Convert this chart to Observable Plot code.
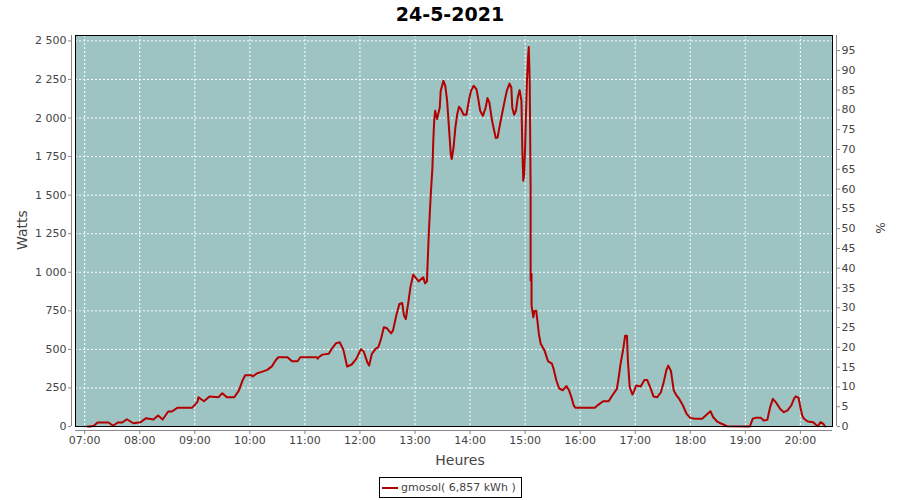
<!DOCTYPE html>
<html>
<head>
<meta charset="utf-8">
<script src="https://cdn.jsdelivr.net/npm/d3@7"></script>
<script src="https://cdn.jsdelivr.net/npm/@observablehq/plot@0.6"></script>
<style>
  body { margin: 0; background: white; }
  #wrap { position: relative; width: 900px; height: 500px; font-family: "DejaVu Sans", sans-serif; color: #444; }
  #title { position: absolute; left: 0; top: 0; width: 900px; height: 28px; line-height: 28px; text-align: center; font-weight: bold; font-size: 19px; color: #000; }
  #chart { position: absolute; left: 0; top: 28px; }
  .lab { position: absolute; font-size: 14px; color: #444; white-space: nowrap; }
  #legend { position: absolute; left: 379px; top: 477px; width: 141px; height: 19px; border: 1px solid #000; font-size: 11px; color: #444; line-height: 19px; white-space: nowrap; overflow: visible; }
  #legend .sw { position: absolute; left: 2px; top: 9px; width: 16px; height: 2px; background: #b00000; }
  #legend .tx { position: absolute; left: 21px; top: 0; }
</style>
</head>
<body>
<div id="wrap">
  <div id="title">24-5-2021</div>
  <div id="chart"></div>
  <div class="lab" id="ylab" style="left:22px; top:230px; transform: translate(-50%,-50%) rotate(-90deg);">Watts</div>
  <div class="lab" id="y2lab" style="left:880px; top:228px; transform: translate(-50%,-50%) rotate(90deg); font-size:12px;">%</div>
  <div class="lab" id="xlab" style="left:460px; top:460px; transform: translate(-50%,-50%);">Heures</div>
  <div id="legend"><div class="sw"></div><div class="tx">gmosol( 6,857 kWh )</div></div>
</div>
<script>
const times = ["07:03","07:06","07:10","07:14","07:26","07:31","07:36","07:41","07:46","07:53",
"08:01","08:07","08:15","08:20","08:25","08:31","08:35","08:41","08:57",
"09:03","09:04","09:10","09:16","09:26","09:30","09:35","09:43","09:48","09:52","09:55",
"10:02","10:03","10:08","10:13","10:19","10:24","10:28","10:31","10:41","10:46","10:52","10:55",
"11:13","11:14","11:15","11:19","11:26","11:30","11:34","11:38","11:42","11:46","11:51","11:56",
"12:01","12:04","12:08","12:10","12:13","12:17","12:20","12:23","12:26","12:29","12:34","12:36","12:40","12:43","12:46","12:48","12:50","12:53","12:55","12:58",
"13:04","13:09","13:11","13:13","13:15","13:17","13:19","13:20","13:21","13:22","13:24","13:27","13:28","13:31","13:33","13:35","13:37","13:39","13:40","13:42","13:44","13:46","13:48","13:50","13:53","13:56","13:59",
"14:01","14:04","14:07","14:09","14:11","14:14","14:17","14:19","14:21","14:24","14:28","14:30","14:33","14:37","14:40","14:43","14:45","14:46","14:48","14:50","14:52","14:54","14:56","14:57","14:58","14:59",
"15:00","15:01","15:02","15:03","15:04","15:05","15:06","15:06","15:07","15:07","15:09","15:10","15:12","15:13","15:15","15:17","15:21","15:25","15:29","15:31","15:34","15:37","15:41","15:45","15:48","15:51","15:53","15:55",
"16:16","16:20","16:25","16:31","16:35","16:40","16:42","16:44","16:47","16:49","16:51","16:52","16:54","16:57","16:59",
"17:01","17:06","17:10","17:13","17:17","17:20","17:24","17:28","17:31","17:34","17:36","17:39","17:42","17:45","17:48","17:52","17:56",
"18:00","18:05","18:13","18:18","18:22","18:25","18:29","18:33","18:40",
"19:05","19:08","19:11","19:17","19:20","19:24","19:27","19:30","19:34","19:38","19:42","19:46","19:50","19:53","19:55","19:58",
"20:00","20:02","20:04","20:08","20:14","20:17","20:19","20:22","20:25","20:27"];
const watts = [0,0,5,26,26,5,26,26,47,21,
28,54,45,71,45,97,97,121,121,
160,190,164,194,190,216,190,190,233,298,332,
332,324,345,354,367,390,428,449,449,423,423,449,
449,440,449,466,471,510,540,546,497,389,402,438,
501,488,417,395,471,503,514,568,643,639,604,622,730,795,801,719,697,816,902,984,
941,967,928,941,1248,1485,1680,1863,1993,2047,1993,2068,2176,2241,2209,2112,1939,1766,1734,1809,1939,2025,2073,2058,2021,2021,2122,
2176,2209,2187,2122,2047,2014,2068,2129,2101,1982,1870,1874,1971,2090,2176,2223,2198,2068,2021,2047,2133,2181,2112,1788,1593,1637,
1809,2036,2241,2371,2461,2241,1550,946,989,784,708,747,751,708,600,536,495,423,410,375,300,248,235,262,233,179,136,121,
121,142,164,164,201,244,319,406,503,589,589,428,255,207,233,
266,259,302,302,244,194,190,222,287,367,395,358,233,201,179,136,82,
56,50,50,78,99,60,34,21,2,
0,50,56,56,39,43,125,179,151,114,93,104,136,179,196,186,
125,71,50,32,28,11,2,28,17,0];
const wattTicks = [0,250,500,750,1000,1250,1500,1750,2000,2250,2500];
const pctTicks = [0,5,10,15,20,25,30,35,40,45,50,55,60,65,70,75,80,85,90,95];
const hourLabels = ["07:00","08:00","09:00","10:00","11:00","12:00","13:00","14:00","15:00","16:00","17:00","18:00","19:00","20:00"];
const xDomain = ["06:50","20:35"];
const yMax = 2535, pctMax = 98.8;

const parseT = s => { const [h,m] = s.split(":").map(Number); return new Date(Date.UTC(2021,4,24,h,m)); };
const data = times.map((t,i) => ({t: parseT(t), w: watts[i]}));
const hours = hourLabels.map(parseT);
const k = yMax / pctMax;
const pctPos = pctTicks.map(p => p * k);
const loc = d3.formatLocale({decimal: ",", thousands: " ", grouping: [3], currency: ["", ""]});
const fmtW = loc.format(",d");
const d0 = parseT(xDomain[0]), d1 = parseT(xDomain[1]);

const chart = Plot.plot({
  width: 900, height: 442,
  marginTop: 7, marginLeft: 75, marginRight: 68, marginBottom: 44,
  style: {fontFamily: "DejaVu Sans, sans-serif", fontSize: "11px", background: "white", overflow: "visible"},
  x: {type: "utc", domain: [d0, d1]},
  y: {domain: [0, yMax]},
  marks: [
    Plot.frame({fill: "#9dc3c3"}),
    Plot.ruleY(wattTicks, {stroke: "white", strokeDasharray: "2,2"}),
    Plot.ruleX(hours, {stroke: "white", strokeDasharray: "2,2"}),
    Plot.line(data, {x: "t", y: "w", stroke: "#b40000", strokeWidth: 2}),
    Plot.frame({stroke: "black", strokeWidth: 1}),
    Plot.axisY(wattTicks, {anchor: "left", dx: -4, tickSize: 3, tickPadding: 2, tickFormat: fmtW, label: null, stroke: "#888", fill: "#444"}),
    Plot.axisY(pctPos, {anchor: "right", dx: 4, tickSize: 3, tickPadding: 2, tickFormat: v => String(Math.round(v / k)), label: null, stroke: "#888", fill: "#444"}),
    Plot.axisX(hours, {anchor: "bottom", dy: 4, tickSize: 4, tickPadding: 2, tickFormat: d3.utcFormat("%H:%M"), label: null, stroke: "#888", fill: "#444"}),
    Plot.ruleX([d0], {dx: -4, stroke: "#888"}),
    Plot.ruleX([d1], {dx: 4, stroke: "#888"}),
    Plot.ruleY([0], {dy: 4, stroke: "#888"})
  ]
});
document.getElementById("chart").appendChild(chart);
</script>
</body>
</html>
